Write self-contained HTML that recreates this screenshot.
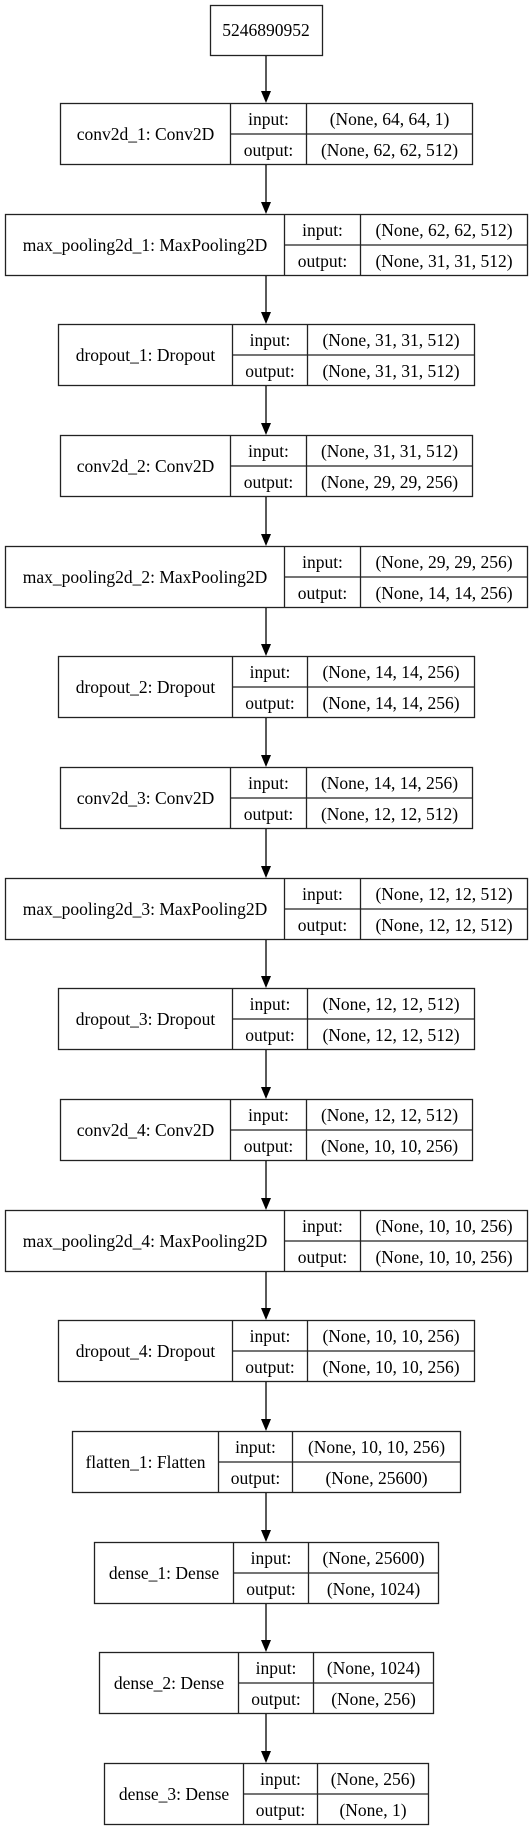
<!DOCTYPE html>
<html><head><meta charset="utf-8"><style>
html,body{margin:0;padding:0;background:#fff;}
svg{display:block;}
text{font-family:"Liberation Serif",serif;font-size:17.5px;fill:#000;text-anchor:middle;}
.b{fill:none;stroke:#222;stroke-width:1.3;}
.a{stroke:#000;stroke-width:1.3;}
</style></head><body>
<svg width="531" height="1831" viewBox="0 0 531 1831" xmlns="http://www.w3.org/2000/svg">
<rect class="b" x="210.5" y="5.5" width="112" height="50"/>
<text x="266" y="36">5246890952</text>

<g transform="translate(0,103)">
<line class="a" x1="266" y1="-47" x2="266" y2="-11"/><polygon points="261,-12 271,-12 266,0"/>
<rect class="b" x="60.5" y="0.5" width="412" height="61"/><path class="b" d="M230.5 0.5V61.5M306.5 0.5V61.5M230.5 31H472.5"/>
<text x="145.5" y="37">conv2d_1: Conv2D</text><text x="268.5" y="22">input:</text><text x="268.5" y="53">output:</text>
<text x="389.5" y="22">(None, 64, 64, 1)</text><text x="389.5" y="53">(None, 62, 62, 512)</text></g>

<g transform="translate(0,214)">
<line class="a" x1="266" y1="-49" x2="266" y2="-11"/><polygon points="261,-12 271,-12 266,0"/>
<rect class="b" x="5.5" y="0.5" width="522" height="61"/><path class="b" d="M284.5 0.5V61.5M360.5 0.5V61.5M284.5 31H527.5"/>
<text x="145" y="37">max_pooling2d_1: MaxPooling2D</text><text x="322.5" y="22">input:</text><text x="322.5" y="53">output:</text>
<text x="444" y="22">(None, 62, 62, 512)</text><text x="444" y="53">(None, 31, 31, 512)</text></g>

<g transform="translate(0,324)">
<line class="a" x1="266" y1="-48" x2="266" y2="-11"/><polygon points="261,-12 271,-12 266,0"/>
<rect class="b" x="58.5" y="0.5" width="416" height="61"/><path class="b" d="M232.5 0.5V61.5M307.5 0.5V61.5M232.5 31H474.5"/>
<text x="145.5" y="37">dropout_1: Dropout</text><text x="270" y="22">input:</text><text x="270" y="53">output:</text>
<text x="391" y="22">(None, 31, 31, 512)</text><text x="391" y="53">(None, 31, 31, 512)</text></g>

<g transform="translate(0,435)">
<line class="a" x1="266" y1="-49" x2="266" y2="-11"/><polygon points="261,-12 271,-12 266,0"/>
<rect class="b" x="60.5" y="0.5" width="412" height="61"/><path class="b" d="M230.5 0.5V61.5M306.5 0.5V61.5M230.5 31H472.5"/>
<text x="145.5" y="37">conv2d_2: Conv2D</text><text x="268.5" y="22">input:</text><text x="268.5" y="53">output:</text>
<text x="389.5" y="22">(None, 31, 31, 512)</text><text x="389.5" y="53">(None, 29, 29, 256)</text></g>

<g transform="translate(0,546)">
<line class="a" x1="266" y1="-49" x2="266" y2="-11"/><polygon points="261,-12 271,-12 266,0"/>
<rect class="b" x="5.5" y="0.5" width="522" height="61"/><path class="b" d="M284.5 0.5V61.5M360.5 0.5V61.5M284.5 31H527.5"/>
<text x="145" y="37">max_pooling2d_2: MaxPooling2D</text><text x="322.5" y="22">input:</text><text x="322.5" y="53">output:</text>
<text x="444" y="22">(None, 29, 29, 256)</text><text x="444" y="53">(None, 14, 14, 256)</text></g>

<g transform="translate(0,656)">
<line class="a" x1="266" y1="-48" x2="266" y2="-11"/><polygon points="261,-12 271,-12 266,0"/>
<rect class="b" x="58.5" y="0.5" width="416" height="61"/><path class="b" d="M232.5 0.5V61.5M307.5 0.5V61.5M232.5 31H474.5"/>
<text x="145.5" y="37">dropout_2: Dropout</text><text x="270" y="22">input:</text><text x="270" y="53">output:</text>
<text x="391" y="22">(None, 14, 14, 256)</text><text x="391" y="53">(None, 14, 14, 256)</text></g>

<g transform="translate(0,767)">
<line class="a" x1="266" y1="-49" x2="266" y2="-11"/><polygon points="261,-12 271,-12 266,0"/>
<rect class="b" x="60.5" y="0.5" width="412" height="61"/><path class="b" d="M230.5 0.5V61.5M306.5 0.5V61.5M230.5 31H472.5"/>
<text x="145.5" y="37">conv2d_3: Conv2D</text><text x="268.5" y="22">input:</text><text x="268.5" y="53">output:</text>
<text x="389.5" y="22">(None, 14, 14, 256)</text><text x="389.5" y="53">(None, 12, 12, 512)</text></g>

<g transform="translate(0,878)">
<line class="a" x1="266" y1="-49" x2="266" y2="-11"/><polygon points="261,-12 271,-12 266,0"/>
<rect class="b" x="5.5" y="0.5" width="522" height="61"/><path class="b" d="M284.5 0.5V61.5M360.5 0.5V61.5M284.5 31H527.5"/>
<text x="145" y="37">max_pooling2d_3: MaxPooling2D</text><text x="322.5" y="22">input:</text><text x="322.5" y="53">output:</text>
<text x="444" y="22">(None, 12, 12, 512)</text><text x="444" y="53">(None, 12, 12, 512)</text></g>

<g transform="translate(0,988)">
<line class="a" x1="266" y1="-48" x2="266" y2="-11"/><polygon points="261,-12 271,-12 266,0"/>
<rect class="b" x="58.5" y="0.5" width="416" height="61"/><path class="b" d="M232.5 0.5V61.5M307.5 0.5V61.5M232.5 31H474.5"/>
<text x="145.5" y="37">dropout_3: Dropout</text><text x="270" y="22">input:</text><text x="270" y="53">output:</text>
<text x="391" y="22">(None, 12, 12, 512)</text><text x="391" y="53">(None, 12, 12, 512)</text></g>

<g transform="translate(0,1099)">
<line class="a" x1="266" y1="-49" x2="266" y2="-11"/><polygon points="261,-12 271,-12 266,0"/>
<rect class="b" x="60.5" y="0.5" width="412" height="61"/><path class="b" d="M230.5 0.5V61.5M306.5 0.5V61.5M230.5 31H472.5"/>
<text x="145.5" y="37">conv2d_4: Conv2D</text><text x="268.5" y="22">input:</text><text x="268.5" y="53">output:</text>
<text x="389.5" y="22">(None, 12, 12, 512)</text><text x="389.5" y="53">(None, 10, 10, 256)</text></g>

<g transform="translate(0,1210)">
<line class="a" x1="266" y1="-49" x2="266" y2="-11"/><polygon points="261,-12 271,-12 266,0"/>
<rect class="b" x="5.5" y="0.5" width="522" height="61"/><path class="b" d="M284.5 0.5V61.5M360.5 0.5V61.5M284.5 31H527.5"/>
<text x="145" y="37">max_pooling2d_4: MaxPooling2D</text><text x="322.5" y="22">input:</text><text x="322.5" y="53">output:</text>
<text x="444" y="22">(None, 10, 10, 256)</text><text x="444" y="53">(None, 10, 10, 256)</text></g>

<g transform="translate(0,1320)">
<line class="a" x1="266" y1="-48" x2="266" y2="-11"/><polygon points="261,-12 271,-12 266,0"/>
<rect class="b" x="58.5" y="0.5" width="416" height="61"/><path class="b" d="M232.5 0.5V61.5M307.5 0.5V61.5M232.5 31H474.5"/>
<text x="145.5" y="37">dropout_4: Dropout</text><text x="270" y="22">input:</text><text x="270" y="53">output:</text>
<text x="391" y="22">(None, 10, 10, 256)</text><text x="391" y="53">(None, 10, 10, 256)</text></g>

<g transform="translate(0,1431)">
<line class="a" x1="266" y1="-49" x2="266" y2="-11"/><polygon points="261,-12 271,-12 266,0"/>
<rect class="b" x="72.5" y="0.5" width="388" height="61"/><path class="b" d="M218.5 0.5V61.5M292.5 0.5V61.5M218.5 31H460.5"/>
<text x="145.5" y="37">flatten_1: Flatten</text><text x="255.5" y="22">input:</text><text x="255.5" y="53">output:</text>
<text x="376.5" y="22">(None, 10, 10, 256)</text><text x="376.5" y="53">(None, 25600)</text></g>

<g transform="translate(0,1542)">
<line class="a" x1="266" y1="-49" x2="266" y2="-11"/><polygon points="261,-12 271,-12 266,0"/>
<rect class="b" x="94.5" y="0.5" width="344" height="61"/><path class="b" d="M233.5 0.5V61.5M308.5 0.5V61.5M233.5 31H438.5"/>
<text x="164" y="37">dense_1: Dense</text><text x="271" y="22">input:</text><text x="271" y="53">output:</text>
<text x="373.5" y="22">(None, 25600)</text><text x="373.5" y="53">(None, 1024)</text></g>

<g transform="translate(0,1652)">
<line class="a" x1="266" y1="-48" x2="266" y2="-11"/><polygon points="261,-12 271,-12 266,0"/>
<rect class="b" x="99.5" y="0.5" width="334" height="61"/><path class="b" d="M238.5 0.5V61.5M313.5 0.5V61.5M238.5 31H433.5"/>
<text x="169" y="37">dense_2: Dense</text><text x="276" y="22">input:</text><text x="276" y="53">output:</text>
<text x="373.5" y="22">(None, 1024)</text><text x="373.5" y="53">(None, 256)</text></g>

<g transform="translate(0,1763)">
<line class="a" x1="266" y1="-49" x2="266" y2="-11"/><polygon points="261,-12 271,-12 266,0"/>
<rect class="b" x="104.5" y="0.5" width="324" height="61"/><path class="b" d="M243.5 0.5V61.5M317.5 0.5V61.5M243.5 31H428.5"/>
<text x="174" y="37">dense_3: Dense</text><text x="280.5" y="22">input:</text><text x="280.5" y="53">output:</text>
<text x="373" y="22">(None, 256)</text><text x="373" y="53">(None, 1)</text></g>
</svg>
</body></html>
